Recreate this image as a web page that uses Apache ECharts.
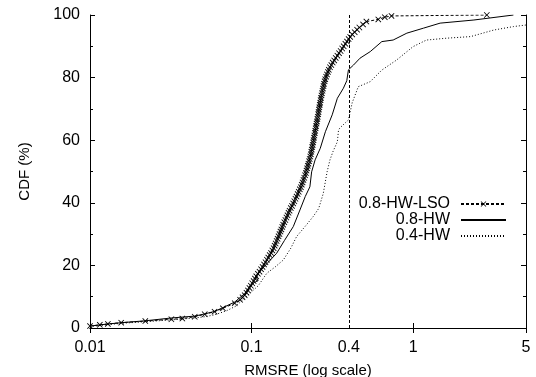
<!DOCTYPE html>
<html>
<head>
<meta charset="utf-8">
<script src="https://cdn.jsdelivr.net/npm/echarts@6/dist/echarts.min.js"></script>
<style>
  html, body { margin: 0; padding: 0; background: #fff; }
  #chart { width: 536px; height: 377px; }
</style>
</head>
<body>
<div id="chart"></div>
<script>
// series names, as in the legend
const seriesNames = ["0.8-HW-LSO", "0.8-HW", "0.4-HW"];
const xTickLabels = [0.01, 0.1, 0.4, 1, 5];
const thresholdX = 0.4;

// 0.8-HW-LSO (dashed, x markers) - dense band read at small steps
const lsoX = [0.0100, 0.0115, 0.0129, 0.0156, 0.0220, 0.0319, 0.0373, 0.0445, 0.0513, 0.0590,
  0.0665, 0.0787, 0.0850, 0.0880, 0.0907, 0.0930, 0.0950, 0.0970, 0.0990, 0.1010,
  0.1030, 0.1050, 0.1070, 0.1095, 0.1120, 0.1145, 0.1170, 0.1195, 0.1220, 0.1245,
  0.1270, 0.1295, 0.1320, 0.1345, 0.1370, 0.1390, 0.1410, 0.1430, 0.1450, 0.1470,
  0.1490, 0.1510, 0.1530, 0.1550, 0.1570, 0.1595, 0.1620, 0.1645, 0.1670, 0.1695,
  0.1720, 0.1750, 0.1780, 0.1810, 0.1840, 0.1870, 0.1900, 0.1930, 0.1960, 0.1990,
  0.2020, 0.2045, 0.2070, 0.2095, 0.2120, 0.2145, 0.2170, 0.2190, 0.2210, 0.2230,
  0.2250, 0.2270, 0.2290, 0.2310, 0.2330, 0.2345, 0.2360, 0.2375, 0.2390, 0.2405,
  0.2420, 0.2435, 0.2450, 0.2465, 0.2480, 0.2495, 0.2510, 0.2525, 0.2540, 0.2555,
  0.2570, 0.2585, 0.2600, 0.2615, 0.2630, 0.2645, 0.2660, 0.2675, 0.2690, 0.2710,
  0.2730, 0.2750, 0.2770, 0.2790, 0.2810, 0.2835, 0.2860, 0.2895, 0.2930, 0.2970,
  0.3010, 0.3060, 0.3120, 0.3180, 0.3250, 0.3320, 0.3400, 0.3480, 0.3560, 0.3640,
  0.3720, 0.3810, 0.3900, 0.3990, 0.4080, 0.4200, 0.4350, 0.4500, 0.4650, 0.4900,
  0.5140, 0.6090, 0.6680, 0.7350, 2.86];
const lsoY = [0.6, 1.0, 1.3, 1.7, 2.2, 2.8, 3.0, 3.6, 4.4, 5.2,
  6.3, 7.9, 9.0, 9.8, 10.5, 11.3, 12.0, 12.8, 13.5, 14.3,
  15.0, 15.8, 16.5, 17.3, 18.0, 18.8, 19.5, 20.3, 21.0, 21.8,
  22.5, 23.3, 24.0, 24.8, 25.5, 26.3, 27.0, 27.8, 28.5, 29.3,
  30.0, 30.8, 31.5, 32.3, 33.0, 33.8, 34.5, 35.3, 36.0, 36.8,
  37.5, 38.3, 39.0, 39.8, 40.5, 41.3, 42.0, 42.8, 43.5, 44.3,
  45.0, 45.8, 46.5, 47.3, 48.0, 48.8, 49.5, 50.3, 51.0, 51.8,
  52.5, 53.3, 54.0, 54.8, 55.5, 56.3, 57.0, 57.8, 58.5, 59.3,
  60.0, 60.8, 61.5, 62.3, 63.0, 63.8, 64.5, 65.3, 66.0, 66.8,
  67.5, 68.3, 69.0, 69.8, 70.5, 71.3, 72.0, 72.8, 73.5, 74.3,
  75.0, 75.8, 76.5, 77.3, 78.0, 78.8, 79.5, 80.3, 81.0, 81.8,
  82.5, 83.3, 84.0, 84.8, 85.5, 86.3, 87.0, 87.8, 88.5, 89.3,
  90.0, 90.8, 91.5, 92.3, 93.0, 93.8, 94.5, 95.3, 96.0, 97.0,
  97.9, 98.6, 99.3, 99.7, 100];

// 0.8-HW (solid)
const hw08X = [0.0100, 0.0115, 0.0156, 0.0220, 0.0319, 0.0445, 0.0513, 0.0590, 0.0665, 0.0787,
  0.0907, 0.0980, 0.1040, 0.1100, 0.1060, 0.1120, 0.1243, 0.1431, 0.1600, 0.1813,
  0.1993, 0.2150, 0.2297, 0.2355, 0.2474, 0.2663, 0.2865, 0.3157, 0.3398, 0.3703,
  0.3886, 0.3980, 0.4276, 0.4692, 0.5428, 0.6404, 0.7524, 0.9150, 1.16, 1.47,
  2.38, 4.18];
const hw08Y = [0.6, 1.0, 1.7, 2.3, 3.2, 3.8, 4.5, 5.3, 6.5, 8.3,
  11.0, 13.5, 14.5, 15.2, 16.5, 18.0, 20.5, 23.9, 28.0, 32.4,
  37.7, 42.0, 45.1, 49.9, 53.7, 57.4, 62.7, 68.1, 73.4, 76.6,
  79.0, 82.5, 84.0, 86.2, 88.3, 91.5, 92.0, 94.2, 95.8, 97.4,
  98.4, 100];

// 0.4-HW (dotted)
const hw04X = [0.0100, 0.0156, 0.0220, 0.0319, 0.0445, 0.0513, 0.0590, 0.0700, 0.0800, 0.0978,
  0.1100, 0.1243, 0.1400, 0.1571, 0.1750, 0.1900, 0.2150, 0.2407, 0.2605, 0.2780,
  0.2936, 0.3057, 0.3200, 0.3398, 0.3456, 0.3536, 0.3980, 0.4200, 0.4580, 0.5428,
  0.6404, 0.7898, 1.00, 1.21, 1.62, 2.27, 3.16, 4.18, 5.00];
const hw04Y = [0.5, 1.5, 2.0, 2.6, 3.2, 3.6, 4.2, 5.5, 7.0, 11.1,
  13.5, 17.5, 19.5, 21.7, 25.5, 29.2, 32.5, 35.6, 38.2, 43.0,
  49.9, 53.7, 56.5, 59.5, 63.3, 64.0, 66.5, 72.0, 77.1, 78.7,
  82.4, 85.6, 89.9, 92.0, 92.6, 93.1, 95.2, 96.3, 96.8];

const font = "'Liberation Sans', Arial, Helvetica, sans-serif";
const crossPath = "path://M0,1L1,0L5,4L9,0L10,1L6,5L10,9L9,10L5,6L1,10L0,9L4,5Z";
const pairs = (xs, ys) => xs.map((x, i) => [x, ys[i]]);
const fmt = (v) => String(+Number(v).toPrecision(6));

const chart = echarts.init(document.getElementById("chart"));

const axisLine = { show: true, lineStyle: { color: "#000", width: 1 } };
const tick = { show: true, inside: true, length: 5, lineStyle: { color: "#000", width: 1 } };
const minor = { show: true, splitNumber: 2, length: 3, lineStyle: { color: "#000" } };
const hiddenMark = { color: "rgba(0,0,0,0)", borderWidth: 0 };

chart.setOption({
  animation: false,
  backgroundColor: "#fff",
  textStyle: { fontFamily: font, color: "#000" },
  grid: { left: 90, right: 10, top: 15, bottom: 49, outerBoundsMode: "none" },
  legend: {
    orient: "vertical",
    align: "right",
    right: 29,
    top: 196,
    padding: 0,
    itemWidth: 45,
    itemHeight: 7,
    itemGap: 0,
    selectedMode: false,
    textStyle: { fontSize: 16, color: "#000", fontFamily: font, padding: [0, 6, 0, 0] },
    data: [
      { name: seriesNames[0] },
      { name: seriesNames[1], itemStyle: hiddenMark },
      { name: seriesNames[2], itemStyle: hiddenMark },
    ],
  },
  xAxis: [
    {
      type: "log",
      logBase: 10,
      min: 0.01,
      max: 5,
      position: "bottom",
      name: "RMSRE (log scale)",
      nameLocation: "middle",
      nameGap: 35,
      nameTextStyle: { fontSize: 15, color: "#000", fontFamily: font },
      axisLine: axisLine,
      axisTick: tick,
      axisLabel: { fontSize: 16, color: "#000", margin: 12, customValues: xTickLabels, formatter: fmt },
      splitLine: { show: false },
    },
    {
      type: "log",
      logBase: 10,
      min: 0.01,
      max: 5,
      position: "top",
      axisLine: axisLine,
      axisTick: tick,
      axisLabel: { show: false },
      splitLine: { show: false },
    },
  ],
  yAxis: [
    {
      type: "value",
      min: 0,
      max: 100,
      interval: 20,
      position: "left",
      name: "CDF (%)",
      nameLocation: "middle",
      nameGap: 58,
      nameTextStyle: { fontSize: 15, color: "#000", fontFamily: font },
      axisLine: axisLine,
      axisTick: tick,
      minorTick: minor,
      axisLabel: { fontSize: 16, color: "#000", margin: 10 },
      splitLine: { show: false },
    },
    {
      type: "value",
      min: 0,
      max: 100,
      interval: 20,
      position: "right",
      axisLine: axisLine,
      axisTick: tick,
      minorTick: minor,
      axisLabel: { show: false },
      splitLine: { show: false },
    },
  ],
  series: [
    {
      name: seriesNames[0],
      type: "line",
      z: 4,
      data: pairs(lsoX, lsoY),
      symbol: crossPath,
      symbolSize: 6,
      showAllSymbol: true,
      itemStyle: { color: "#000" },
      lineStyle: { color: "#000", width: 1, type: [3, 2] },
      emphasis: { disabled: true },
    },
    {
      name: seriesNames[1],
      type: "line",
      z: 3,
      data: pairs(hw08X, hw08Y),
      showSymbol: false,
      symbol: "none",
      itemStyle: { color: "#000" },
      lineStyle: { color: "#000", width: 1, type: "solid" },
      emphasis: { disabled: true },
      markLine: {
        silent: true,
        symbol: ["none", "none"],
        label: { show: false },
        lineStyle: { color: "#000", width: 1, type: [3, 2] },
        data: [{ xAxis: thresholdX }],
      },
    },
    {
      name: seriesNames[2],
      type: "line",
      z: 2,
      data: pairs(hw04X, hw04Y),
      showSymbol: false,
      symbol: "none",
      itemStyle: { color: "#000" },
      lineStyle: { color: "#000", width: 1, type: [1, 2] },
      emphasis: { disabled: true },
    },
  ],
});
</script>
</body>
</html>
